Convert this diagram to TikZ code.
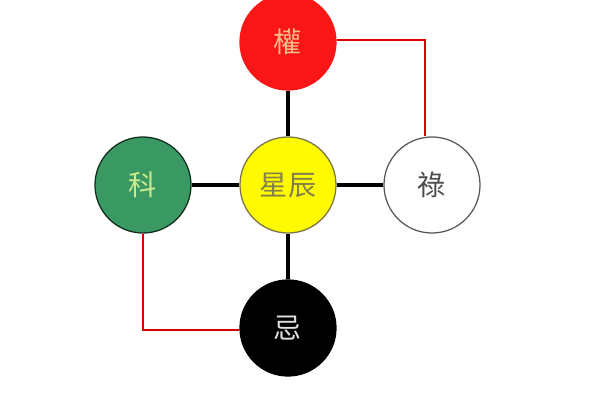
\documentclass[tikz,border=0pt]{standalone}
\usepackage{fontspec}
\newfontfamily\cjk{Noto Sans CJK TC}
\usepackage{tikz}
\usetikzlibrary{positioning}

\begin{document}
\begin{tikzpicture}[x=0.025cm, y=-0.025cm]
      \tikzstyle{star} = [circle, minimum size=2.4cm, inner sep=0pt, line width=0.9pt, font=\cjk\fontsize{20}{20}\selectfont]
      \tikzstyle{spoke} = [line width=2.2pt, draw=black]
      \tikzstyle{redline} = [line width=1.1pt, draw=red!85!black]
      \definecolor{quanred}{RGB}{250,22,22}
      \definecolor{kegreen}{RGB}{58,152,98}
      \definecolor{xcyellow}{RGB}{255,250,0}
      \definecolor{quantext}{RGB}{248,190,140}
      \definecolor{ketext}{RGB}{205,235,140}
      \useasboundingbox[fill=white] (0,0) rectangle (600,400);

      \node[star, fill=xcyellow, draw=black!60!yellow, text=black!55!yellow] (mid) at (288,185) {星辰};
      \node[star, fill=quanred, draw=quanred, text=quantext] (top) at (288,42) {權};
      \node[star, fill=white, draw=black!65, text=black!70] (rgt) at (432,185) {祿};
      \node[star, fill=kegreen, draw=black!70!kegreen, text=ketext] (lft) at (143,185) {科};
      \node[star, fill=black, draw=black, text=black!12] (bot) at (288,328) {忌};

      \draw [spoke] (top) -- (mid);
      \draw [spoke] (mid) -- (rgt);
      \draw [spoke] (lft) -- (mid);
      \draw [spoke] (mid) -- (bot);

      \coordinate (top-corner) at (425,40);
      \coordinate (lft-corner) at (143,330);
      \draw [redline] (top.east |- top-corner) -- (top-corner) -- (top-corner |- rgt.north);
      \draw [redline] (lft.south) -- (lft-corner) -- (lft-corner -| bot.west);
\end{tikzpicture}
\end{document}
